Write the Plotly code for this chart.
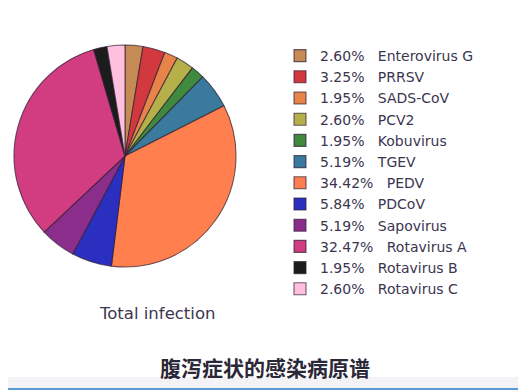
import plotly.graph_objects as go

names = ["Enterovirus G", "PRRSV", "SADS-CoV", "PCV2", "Kobuvirus", "TGEV",
         "PEDV", "PDCoV", "Sapovirus", "Rotavirus A", "Rotavirus B", "Rotavirus C"]
percents = [2.60, 3.25, 1.95, 2.60, 1.95, 5.19, 34.42, 5.84, 5.19, 32.47, 1.95, 2.60]
colors = ["#c68a55", "#d2393f", "#e8834a", "#b5b04a", "#3f8a3f", "#3a7a9c",
          "#ff7f4f", "#2a2fc0", "#8b2d8b", "#d23c80", "#1c1c1c", "#ffc0e0"]

chart_label = "Total infection"
title_text = "腹泻症状的感染病原谱"

labels = [f"{p:.2f}%\u00a0\u00a0\u00a0{n}" for p, n in zip(percents, names)]

# page has an 8px body margin; figure sized to fit the window
OFF = 8
W, H = 526 - OFF, 391 - OFF


def fx(px):
    return (px - OFF) / W


def fy(py):
    return 1 - (py - OFF) / H


fig = go.Figure(go.Pie(
    labels=labels,
    values=percents,
    sort=False,
    direction="clockwise",
    rotation=0,
    marker=dict(colors=colors, line=dict(color="rgba(45,30,50,0.7)", width=1.1)),
    textinfo="none",
    hoverinfo="label",
    domain=dict(x=[fx(13), fx(237)], y=[fy(267), fy(45)]),
))

fig.update_layout(
    width=W, height=H,
    margin=dict(l=0, r=0, t=0, b=0),
    paper_bgcolor="white",
    plot_bgcolor="white",
    showlegend=True,
    legend=dict(
        x=fx(280), xanchor="left",
        y=fy(40), yanchor="top",
        font=dict(family="DejaVu Sans", size=14, color="#3b3550"),
        bgcolor="rgba(0,0,0,0)",
        tracegroupgap=0,
    ),
    annotations=[
        dict(text=chart_label, x=fx(157), y=fy(313), xref="paper", yref="paper",
             showarrow=False, xanchor="center", yanchor="middle",
             font=dict(family="DejaVu Sans", size=16.5, color="#3b3550")),
        dict(text=title_text, x=fx(264.5), y=fy(367), xref="paper", yref="paper",
             showarrow=False, xanchor="center", yanchor="middle",
             font=dict(family="Noto Sans CJK SC", size=21, color="#2b2838", weight=600)),
    ],
    shapes=[
        dict(type="rect", xref="paper", yref="paper", x0=fx(0), x1=fx(519), y0=fy(389), y1=fy(377),
             fillcolor="rgba(235,233,238,0.6)", line=dict(width=0), layer="below"),
        dict(type="rect", xref="paper", yref="paper", x0=fx(-10), x1=fx(519), y0=fy(389), y1=fy(-10),
             fillcolor="rgba(0,0,0,0)", line=dict(color="#5b9bd5", width=2)),
    ],
)

fig.write_html("out.html")
